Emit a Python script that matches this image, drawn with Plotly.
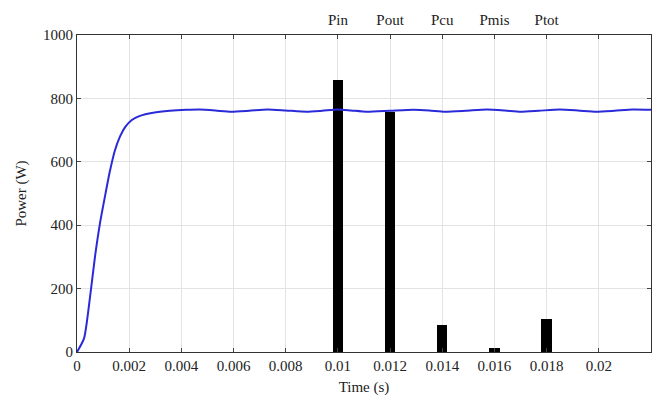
import plotly.graph_objects as go

# Power curve (time in s, power in W)
time_s = [0, 0.00027, 0.0005, 0.00069, 0.00088, 0.00107, 0.00126, 0.00145, 0.00165,
          0.00185, 0.00210, 0.00241, 0.00292, 0.00356, 0.0042, 0.0047, 0.0053, 0.0059, 0.0066,
          0.0073, 0.0080, 0.0088, 0.0094, 0.0100, 0.0105, 0.0111, 0.0120, 0.0129,
          0.0135, 0.0141, 0.0149, 0.0157, 0.0164, 0.0170, 0.0177, 0.0185, 0.0192,
          0.0199, 0.0206, 0.0213, 0.0220]
power_w = [0, 43, 174, 301, 406, 490, 570, 635, 680,
           710, 732, 745, 755, 761, 764, 765, 762, 758, 761,
           765, 762, 758, 761, 765, 762, 758, 761, 764,
           762, 758, 761, 765, 762, 758, 761, 765, 762,
           758, 761, 765, 764]

# Loss / power bars
bar_names = ["Pin", "Pout", "Pcu", "Pmis", "Ptot"]
bar_x = [0.010, 0.012, 0.014, 0.016, 0.018]
bar_values = [858, 757, 85, 14, 104]

x_ticks = [0, 0.002, 0.004, 0.006, 0.008, 0.01, 0.012, 0.014, 0.016, 0.018, 0.02]
x_tick_text = ["0", "0.002", "0.004", "0.006", "0.008", "0.01", "0.012", "0.014", "0.016", "0.018", "0.02"]
y_ticks = [0, 200, 400, 600, 800, 1000]

FONT = "Liberation Serif, Times New Roman, serif"

fig = go.Figure()
fig.add_trace(go.Scatter(x=time_s, y=power_w, mode="lines",
                         line=dict(color="#2a2ad8", width=2, shape="spline", smoothing=0.6),
                         showlegend=False))
fig.add_trace(go.Bar(x=bar_x, y=bar_values, width=0.0004, marker=dict(color="black", line=dict(width=0)),
                     showlegend=False))
# invisible trace to activate top axis
fig.add_trace(go.Scatter(x=bar_x, y=[None]*len(bar_x), xaxis="x2", showlegend=False, hoverinfo="skip"))

fig.update_layout(
    width=659, height=401,
    margin=dict(l=77, r=8, t=35, b=49),
    paper_bgcolor="white", plot_bgcolor="white",
    font=dict(family=FONT, size=15, color="#222"),
    xaxis=dict(range=[0, 0.022], tickvals=x_ticks, ticktext=x_tick_text, ticks="inside", ticklen=4,
               showline=True, linecolor="#333", linewidth=1, mirror="ticks", showgrid=True,
               gridcolor="#e3e3e3", gridwidth=1, zeroline=False,
               title=dict(text="Time (s)", standoff=8, font=dict(size=15))),
    xaxis2=dict(range=[0, 0.022], overlaying="x", side="top", tickvals=bar_x, ticktext=bar_names,
                ticks="", showgrid=False, showline=False, zeroline=False, ticklabelstandoff=6),
    yaxis=dict(range=[0, 1000], tickvals=y_ticks, ticks="inside", ticklen=4,
               showline=True, linecolor="#333", linewidth=1, mirror="ticks", showgrid=True,
               gridcolor="#e3e3e3", gridwidth=1, zeroline=False,
               title=dict(text="Power (W)", standoff=12, font=dict(size=15))),
    bargap=0,
)

fig.write_html("out.html")
